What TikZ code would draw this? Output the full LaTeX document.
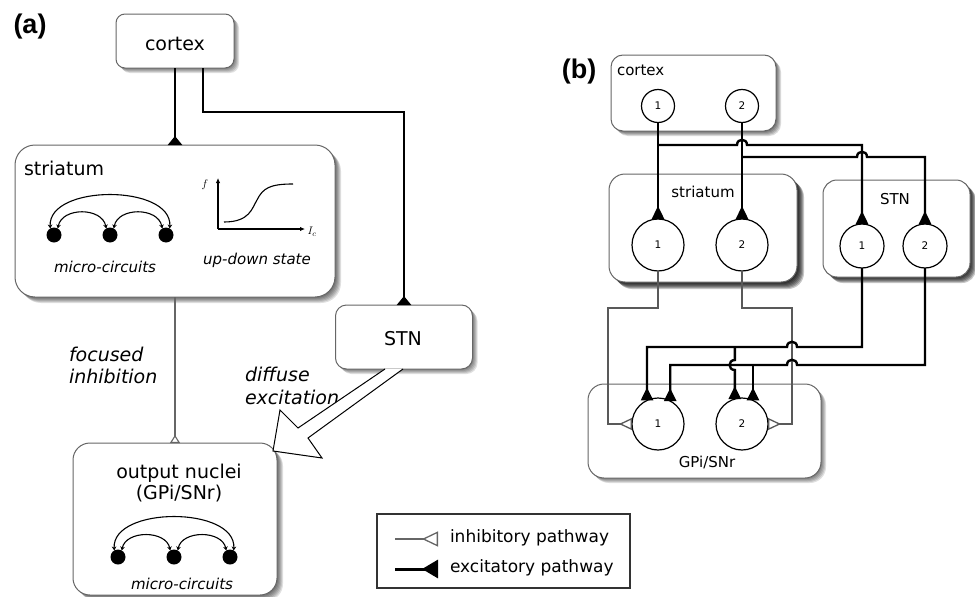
\documentclass[tikz,border=0pt]{standalone}
\usepackage{fontspec}
\setmainfont{DejaVu Sans}
\newfontfamily\tagfont{Liberation Sans}
\usetikzlibrary{arrows.meta,backgrounds,calc}

% soft shadow behind a box node: node name, corner radius, opacity, list of offsets
\newcommand\castshade[4]{%
  \foreach \sv in {#4}{%
    \fill[black, opacity=#3, rounded corners=#2]
      ([xshift=\sv pt, yshift=-\sv pt]#1.south west) rectangle
      ([xshift=\sv pt, yshift=-\sv pt]#1.north east);}}

\tikzset{
  box/.style={draw=black!60, line width=1pt, fill=white, rounded corners=#1},
  tag/.style={font=\tagfont\bfseries\fontsize{27}{30}\selectfont},
  lab/.style={font=\fontsize{19}{22}\selectfont},
  labit/.style={font=\fontsize{19}{22}\selectfont\itshape},
  smallit/.style={font=\fontsize{15}{17}\selectfont\itshape},
  labB/.style={font=\fontsize{15}{17}\selectfont},
  leg/.style={font=\fontsize{17}{19}\selectfont},
  excA/.style={line width=2.6pt, -{Triangle[reversed,length=9pt,width=14pt]}},
  inhA/.style={draw=black!60, line width=1.1pt, -{Triangle[open,reversed,length=8pt,width=10pt,fill=white]}},
  excB/.style={line width=2.4pt, -{Triangle[reversed,length=13pt,width=12pt]}},
  inhB/.style={draw=black!65, line width=1.3pt, -{Triangle[open,reversed,length=13pt,width=12pt,fill=white]}},
  microcell/.style={circle, fill=black, minimum size=15pt},
  microarc/.style={line width=1.1pt, {Stealth[length=4pt,width=4.5pt]}-{Stealth[length=4pt,width=4.5pt]}},
  axis/.style={line width=1.1pt, -{Latex[length=5pt,width=4.5pt]}},
  cell/.style={circle, draw=black, line width=1.2pt, fill=white, minimum size=#1,
    font=\fontsize{10.5}{12}\selectfont},
  % a small bump where a horizontal wire passes over another one
  hopright/.style={to path={-- ([xshift=-5pt]\tikztotarget)
      .. controls ([xshift=-5pt,yshift=7pt]\tikztotarget) and ([xshift=5pt,yshift=7pt]\tikztotarget)
      .. ([xshift=5pt]\tikztotarget)}},
  hopleft/.style={to path={-- ([xshift=5pt]\tikztotarget)
      .. controls ([xshift=5pt,yshift=7pt]\tikztotarget) and ([xshift=-5pt,yshift=7pt]\tikztotarget)
      .. ([xshift=-5pt]\tikztotarget)}},
  % a vertical wire stepping aside over a horizontal one
  hopdown/.style={to path={-- ([yshift=5pt]\tikztotarget)
      .. controls ([xshift=-7pt,yshift=5pt]\tikztotarget) and ([xshift=-7pt,yshift=-5pt]\tikztotarget)
      .. ([yshift=-5pt]\tikztotarget)}},
}

\begin{document}
\begin{tikzpicture}[x=1pt, y=-1pt, every node/.style={inner sep=0pt, outer sep=0pt}]
\useasboundingbox (0,0) rectangle (975,597);

% ---------------- panel (a) ----------------
\node[tag] (tagA) at (30,27) {(a)};

\node[box=9pt, minimum width=118pt, minimum height=54pt] (cortexA) at (175,41) {};
\node[lab, anchor=base] (cortexAt) at (175,50) {cortex};

\node[box=20pt, minimum width=320pt, minimum height=152pt] (striatumA) at (175,221) {};
\node[lab, anchor=base west] (striatumAt) at (24,175) {striatum};

\node[box=11pt, minimum width=137pt, minimum height=64pt] (stnA) at (404,337) {};
\node[lab, anchor=base] (stnAt) at (403,345) {STN};

\node[box=17pt, minimum width=204pt, minimum height=152pt] (outA) at (175,519) {};
\node[lab, anchor=base] (outAt1) at (179,478) {output nuclei};
\node[lab, anchor=base] (outAt2) at (179,499) {(GPi/SNr)};

% micro-circuits in the striatum
\node[microcell] (sm1) at (54,235) {};
\node[microcell] (sm2) at (110,235) {};
\node[microcell] (sm3) at (166,235) {};
\draw[microarc] (sm1.60) .. controls (62,207) and (102,207) .. (sm2.120);
\draw[microarc] (sm2.60) .. controls (118,207) and (158,207) .. (sm3.120);
\draw[microarc] (sm1.120) .. controls (48,184) and (172,184) .. (sm3.60);
\node[smallit, anchor=base] (smt) at (105,272) {micro-circuits};

% up-down state curve
\coordinate (ax0) at (218,229);
\coordinate (axy) at (218,178);
\coordinate (axx) at (305,229);
\draw[axis] (ax0) -- (axy);
\draw[axis] (ax0) -- (axx);
\node[font=\fontsize{11}{12}\selectfont] (flab) at (205,185) {$f$};
\node[font=\fontsize{11}{12}\selectfont] (iclab) at (312,232) {$I_c$};
\draw[line width=1.1pt] (224,222) .. controls (250,222) and (252,208) .. (257,200)
   .. controls (263,188) and (270,184) .. (293,184);
\node[smallit, anchor=base] (udt) at (257,264) {up-down state};

% micro-circuits in the output nuclei
\node[microcell] (om1) at (118,557) {};
\node[microcell] (om2) at (174,557) {};
\node[microcell] (om3) at (230,557) {};
\draw[microarc] (om1.60) .. controls (126,530) and (166,530) .. (om2.120);
\draw[microarc] (om2.60) .. controls (182,530) and (222,530) .. (om3.120);
\draw[microarc] (om1.120) .. controls (112,506) and (236,506) .. (om3.60);
\node[smallit, anchor=base] (omt) at (182,589) {micro-circuits};

% pathways
\coordinate (kneeA) at (0,112);
\draw[excA] (cortexA.south) -- (striatumA.north);
\draw[excA] ([xshift=28pt]cortexA.south) |- (stnA.north |- kneeA) -- (stnA.north);
\draw[inhA] (striatumA.south) -- (outA.north);

\node[labit, anchor=base west] (foc1) at (69,361) {focused};
\node[labit, anchor=base west] (foc2) at (69,383) {inhibition};
\node[labit, anchor=base west] (dif1) at (245,381) {diffuse};
\node[labit, anchor=base west] (dif2) at (245,404) {excitation};

% broad hollow arrow from the STN
\draw[line width=1pt, fill=white, line join=miter]
  ([xshift=-19pt]stnA.south) -- (298,428) -- (280,410) -- (273,451)
  -- (322,458) -- (308,438) -- ([xshift=-1pt]stnA.south);

% legend
\node[draw=black!80, line width=1.6pt, minimum width=253pt, minimum height=74pt] (legend) at (503.5,551) {};
\coordinate (li0) at (395,539);
\coordinate (li1) at (438,539);
\coordinate (le0) at (395,569);
\coordinate (le1) at (438,569);
\draw[draw=black!60, line width=1.3pt, -{Triangle[open,reversed,length=16pt,width=15pt,fill=white]}] (li0) -- (li1);
\draw[line width=3pt, -{Triangle[reversed,length=16pt,width=18pt]}] (le0) -- (le1);
\node[leg, anchor=base west] (legi) at (450,542) {inhibitory pathway};
\node[leg, anchor=base west] (lege) at (450,572) {excitatory pathway};

% ---------------- panel (b) ----------------
\node[tag] (tagB) at (579,72) {(b)};

\node[box=12pt, minimum width=165pt, minimum height=76pt] (cortexB) at (693.5,93) {};
\node[labB, anchor=base west] (cortexBt) at (617,75) {cortex};

\node[box=16pt, minimum width=188pt, minimum height=108pt] (striatumB) at (703,228) {};
\node[labB, anchor=base] (striatumBt) at (703,197) {striatum};

\node[box=14pt, minimum width=147pt, minimum height=97pt] (stnB) at (896.5,228.5) {};
\node[labB, anchor=base] (stnBt) at (895,204) {STN};

\node[box=16pt, minimum width=233pt, minimum height=94pt] (gpiB) at (704.5,431) {};
\node[labB, anchor=base] (gpiBt) at (707,467) {GPi/SNr};

% shadows behind the boxes
\begin{scope}[on background layer]
  \castshade{cortexA}{9pt}{.12}{1,2,3,4,5}
  \castshade{striatumA}{20pt}{.12}{1,2,3,4,5,6}
  \castshade{stnA}{11pt}{.12}{1,2,3,4,5}
  \castshade{outA}{17pt}{.12}{1,2,3,4,5,6}
  \castshade{cortexB}{12pt}{.14}{1,2,3,4,5}
  \castshade{striatumB}{16pt}{.22}{1,2,3,4,5,6,7}
  \castshade{stnB}{14pt}{.22}{1,2,3,4,5,6}
  \castshade{gpiB}{16pt}{.12}{1,2,3,4,5}
\end{scope}

\node[cell=33pt] (c1) at (658,106) {1};
\node[cell=33pt] (c2) at (742,106) {2};
\node[cell=52pt] (s1) at (658,245) {1};
\node[cell=52pt] (s2) at (742,245) {2};
\node[cell=44pt] (n1) at (862,246) {1};
\node[cell=44pt] (n2) at (925,246) {2};
\node[cell=52pt] (g1) at (658,424) {1};
\node[cell=52pt] (g2) at (742,424) {2};

% wire levels
\coordinate (rB1) at (0,145);
\coordinate (rB2) at (0,157);
\coordinate (sL) at (608,308);
\coordinate (sR) at (792,308);
\coordinate (rD1) at (0,347);
\coordinate (rD2) at (0,365);

% striatum -> GPi/SNr (inhibitory)
\draw[inhB] (s1.south) |- (sL) |- (g1.west);
\draw[inhB] (s2.south) |- (sR) |- (g2.east);

% cortex -> striatum and STN (excitatory)
\draw[excB] (c1.south) -- (s1.north);
\draw[excB] (c2.south) -- (s2.north);
\draw[excB] (c1.south |- rB1) to[hopright] (c2.south |- rB1) -- (n1.north |- rB1) -- (n1.north);
\draw[excB] (c2.south |- rB2) to[hopright] (n1.north |- rB2) -- (n2.north |- rB2) -- (n2.north);

% STN -> GPi/SNr (excitatory)
\draw[excB] (n1.south) -- (n1.south |- rD1) to[hopleft] (sR |- rD1) -- (g1.115 |- rD1) -- (g1.115);
\draw[excB] (g2.106 |- rD1) to[hopdown] (g2.106 |- rD2) -- (g2.106);
\draw[excB] (n2.south) -- (n2.south |- rD2) to[hopleft] (sR |- rD2) -- (g1.62 |- rD2) -- (g1.62);
\draw[excB] (g2.65 |- rD2) -- (g2.65);

\end{tikzpicture}
\end{document}
